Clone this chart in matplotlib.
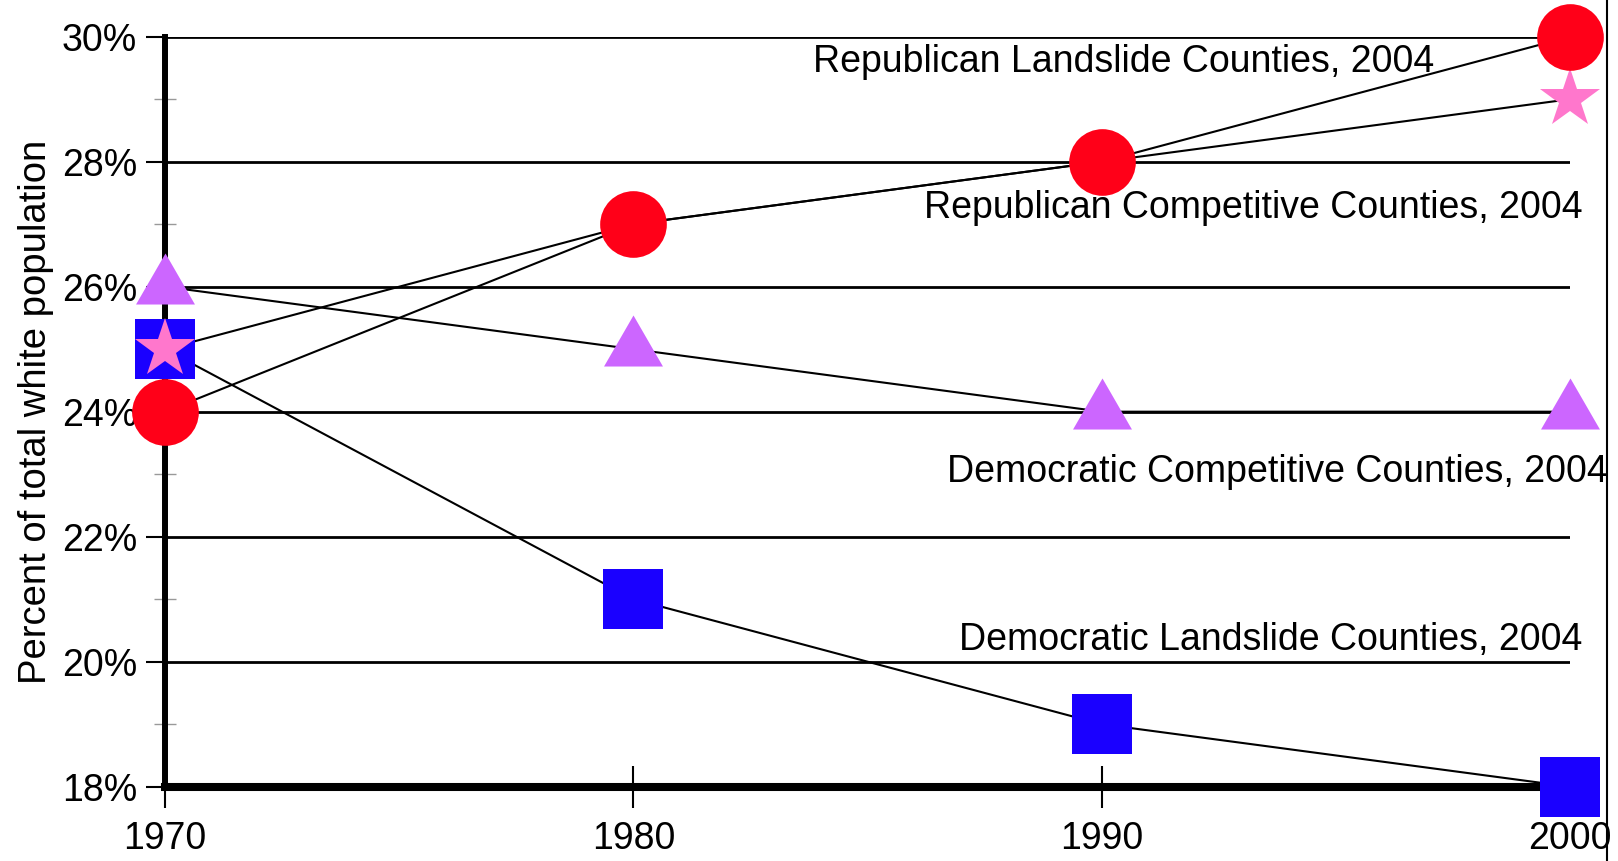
import matplotlib
matplotlib.use("Agg")
import matplotlib.pyplot as plt
from matplotlib.ticker import MultipleLocator, FuncFormatter
from matplotlib.lines import Line2D

# data
years = [1970, 1980, 1990, 2000]
rep_landslide = [24, 27, 28, 30]
rep_competitive = [25, 27, 28, 29]
dem_competitive = [26, 25, 24, 24]
dem_landslide = [25, 21, 19, 18]

series_labels = ["Republican Landslide Counties, 2004",
                 "Republican Competitive Counties, 2004",
                 "Democratic Competitive Counties, 2004",
                 "Democratic Landslide Counties, 2004"]

plt.rcParams['font.family'] = ['Liberation Sans', 'DejaVu Sans']

fig = plt.figure(figsize=(16.18, 8.61), dpi=100)
ax = fig.add_axes([0.102, 0.0863, 0.8684, 0.8711])

# grid lines only between 1970 and 2000
for v in range(18, 31, 2):
    ax.axhline(v, color="black", lw=2, zorder=1)

# connecting lines
for vals in [dem_competitive, dem_landslide, rep_landslide, rep_competitive]:
    ax.plot(years, vals, color="black", lw=1.5, zorder=2)

# markers (circles sit on top of the stars)
ax.plot(years, dem_competitive, ls="none", marker=(3, 0, 0), ms=49,
        color="#cc66ff", mew=0, zorder=3, clip_on=False)
ax.plot(years, dem_landslide, ls="none", marker="s", ms=43,
        color="#1a00ff", mew=0, zorder=4, clip_on=False)
ax.plot(years, rep_competitive, ls="none", marker="*", ms=45,
        color="#ff77cc", mew=0, zorder=5, clip_on=False)
ax.plot(years, rep_landslide, ls="none", marker="o", ms=48,
        color="#ff0018", mew=0, zorder=6, clip_on=False)

# series labels
ax.text(1997.1, 29.43, series_labels[0], ha="right", va="baseline", fontsize=27, zorder=7)
ax.text(2000.26, 27.10, series_labels[1], ha="right", va="baseline", fontsize=27, zorder=7)
ax.text(2000.8, 22.875, series_labels[2], ha="right", va="baseline", fontsize=27, zorder=7)
ax.text(2000.26, 20.19, series_labels[3], ha="right", va="baseline", fontsize=27, zorder=7)

ax.set_xlim(1970, 2000)
ax.set_ylim(18, 30)
ax.set_xticks(years)
ax.yaxis.set_major_locator(MultipleLocator(2))
ax.yaxis.set_minor_locator(MultipleLocator(1))
ax.yaxis.set_major_formatter(FuncFormatter(lambda v, p: "%d%%" % v))

ax.tick_params(axis="y", which="major", direction="out", length=14, width=1.5,
               labelsize=27, pad=6)
ax.tick_params(axis="y", which="minor", direction="inout", length=16, width=1,
               color="#999999")
ax.tick_params(axis="x", which="major", direction="inout", length=30, width=1.5,
               labelsize=27, pad=10)

for s in ["top", "right"]:
    ax.spines[s].set_visible(False)
ax.spines["left"].set_linewidth(4.3)
ax.spines["bottom"].set_linewidth(5.8)
ax.spines["left"].set_zorder(2.5)
ax.spines["bottom"].set_zorder(2.5)

ax.set_ylabel("Percent of total white population", fontsize=27.5, labelpad=6)

# page border on the right
fig.add_artist(Line2D([0.9935, 0.9935], [0, 1], color="black", lw=1.5))

fig.savefig("out.png", dpi=100)
